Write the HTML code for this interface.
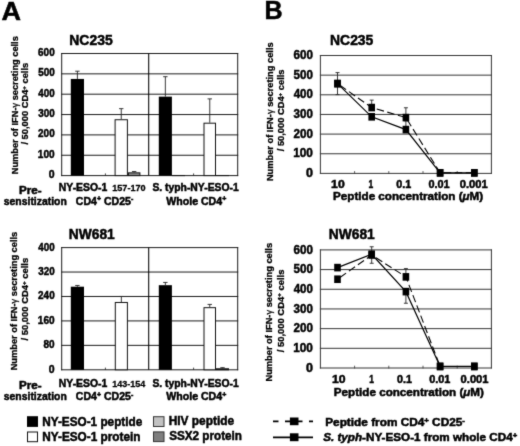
<!DOCTYPE html>
<html><head><meta charset="utf-8"><title>Figure</title>
<style>
html,body{margin:0;padding:0;background:#fff;}
body{width:520px;height:446px;overflow:hidden;}
svg{display:block;}
text{font-family:"Liberation Sans",sans-serif;font-weight:bold;white-space:pre;stroke:#000;}
text{stroke-width:0.5px;}
</style></head><body>
<svg width="520" height="446" viewBox="0 0 520 446">
<defs><filter id="soft" x="-10" y="-10" width="540" height="466" filterUnits="userSpaceOnUse" color-interpolation-filters="sRGB"><feConvolveMatrix order="3" kernelMatrix="0.02 0.08 0.02 0.08 0.6 0.08 0.02 0.08 0.02" edgeMode="duplicate" preserveAlpha="true"/></filter></defs>
<g filter="url(#soft)">
<rect x="-10" y="-10" width="540" height="466" fill="#fff"/>
<text transform="translate(1.41,19.70) scale(1.0585,1)" font-size="25.50" fill="#000">A</text>
<text transform="translate(264.44,18.50) scale(1.0033,1)" font-size="25.00" fill="#000">B</text>
<line x1="61.70" y1="53.50" x2="237.70" y2="53.50" stroke="#1a1a1a" stroke-width="1.00" stroke-linecap="square" />
<line x1="61.70" y1="73.85" x2="237.70" y2="73.85" stroke="#1a1a1a" stroke-width="1.00" stroke-linecap="square" />
<line x1="61.70" y1="94.20" x2="237.70" y2="94.20" stroke="#1a1a1a" stroke-width="1.00" stroke-linecap="square" />
<line x1="61.70" y1="114.55" x2="237.70" y2="114.55" stroke="#1a1a1a" stroke-width="1.00" stroke-linecap="square" />
<line x1="61.70" y1="134.90" x2="237.70" y2="134.90" stroke="#1a1a1a" stroke-width="1.00" stroke-linecap="square" />
<line x1="61.70" y1="155.25" x2="237.70" y2="155.25" stroke="#1a1a1a" stroke-width="1.00" stroke-linecap="square" />
<line x1="61.70" y1="175.60" x2="237.70" y2="175.60" stroke="#1a1a1a" stroke-width="1.00" stroke-linecap="square" />
<line x1="61.70" y1="53.50" x2="61.70" y2="175.60" stroke="#1a1a1a" stroke-width="1.00" stroke-linecap="square" />
<line x1="237.70" y1="53.50" x2="237.70" y2="175.60" stroke="#1a1a1a" stroke-width="1.00" stroke-linecap="square" />
<line x1="148.70" y1="53.50" x2="148.70" y2="175.60" stroke="#000" stroke-width="1.05" stroke-linecap="butt" />
<line x1="105.40" y1="173.40" x2="105.40" y2="175.60" stroke="#1a1a1a" stroke-width="0.80" stroke-linecap="butt" />
<line x1="193.60" y1="173.40" x2="193.60" y2="175.60" stroke="#1a1a1a" stroke-width="0.80" stroke-linecap="butt" />
<text transform="translate(69.25,45.20) scale(0.9964,1)" font-size="14.00" fill="#000">NC235</text>
<text transform="translate(38.09,56.00) scale(0.8714,1)" font-size="11.40" fill="#000">600</text>
<text transform="translate(38.14,76.35) scale(0.8690,1)" font-size="11.40" fill="#000">500</text>
<text transform="translate(38.31,96.70) scale(0.8596,1)" font-size="11.40" fill="#000">400</text>
<text transform="translate(38.22,117.05) scale(0.8643,1)" font-size="11.40" fill="#000">300</text>
<text transform="translate(38.09,137.40) scale(0.8714,1)" font-size="11.40" fill="#000">200</text>
<text transform="translate(37.82,157.75) scale(0.8860,1)" font-size="11.40" fill="#000">100</text>
<text transform="translate(48.87,178.10) scale(0.9211,1)" font-size="11.40" fill="#000">0</text>
<line x1="77.40" y1="71.20" x2="77.40" y2="78.94" stroke="#222" stroke-width="0.90" stroke-linecap="butt" />
<line x1="75.20" y1="71.20" x2="79.60" y2="71.20" stroke="#222" stroke-width="0.90" stroke-linecap="butt" />
<rect x="70.80" y="78.94" width="13.20" height="96.66" fill="#000"/>
<rect x="84.50" y="175.79" width="12.20" height="-0.19" fill="#fff" stroke="#111" stroke-width="1.00"/>
<line x1="121.25" y1="108.65" x2="121.25" y2="119.23" stroke="#222" stroke-width="0.90" stroke-linecap="butt" />
<line x1="119.05" y1="108.65" x2="123.45" y2="108.65" stroke="#222" stroke-width="0.90" stroke-linecap="butt" />
<rect x="115.10" y="119.73" width="12.30" height="55.87" fill="#fff" stroke="#111" stroke-width="1.00"/>
<line x1="134.15" y1="171.53" x2="134.15" y2="172.34" stroke="#222" stroke-width="0.90" stroke-linecap="butt" />
<line x1="131.95" y1="171.53" x2="136.35" y2="171.53" stroke="#222" stroke-width="0.90" stroke-linecap="butt" />
<rect x="128.40" y="172.84" width="11.50" height="2.76" fill="#888" stroke="#111" stroke-width="1.00"/>
<line x1="165.35" y1="76.70" x2="165.35" y2="96.64" stroke="#222" stroke-width="0.90" stroke-linecap="butt" />
<line x1="163.15" y1="76.70" x2="167.55" y2="76.70" stroke="#222" stroke-width="0.90" stroke-linecap="butt" />
<rect x="158.80" y="96.64" width="13.10" height="78.96" fill="#000"/>
<rect x="172.40" y="175.49" width="12.10" height="0.11" fill="#fff" stroke="#111" stroke-width="1.00"/>
<line x1="209.75" y1="98.88" x2="209.75" y2="122.69" stroke="#222" stroke-width="0.90" stroke-linecap="butt" />
<line x1="207.55" y1="98.88" x2="211.95" y2="98.88" stroke="#222" stroke-width="0.90" stroke-linecap="butt" />
<rect x="204.00" y="123.19" width="11.50" height="52.41" fill="#fff" stroke="#111" stroke-width="1.00"/>
<rect x="216.50" y="175.49" width="12.00" height="0.11" fill="#888" stroke="#111" stroke-width="1.00"/>
<text transform="translate(17.50,174.22) rotate(-90) scale(1.0277,1)" font-size="9.00" fill="#000" style="stroke-width:0.3px">Number of IFN-<tspan font-weight="normal">γ</tspan> secreting cells</text>
<text transform="translate(28.40,144.60) rotate(-90) scale(1.0353,1)" font-size="9.00" fill="#000" style="stroke-width:0.3px">/ 50,000 CD4<tspan font-size="5.94" dy="-2.70">+</tspan><tspan dy="2.70" font-size="0.01">&#8203;</tspan> cells</text>
<line x1="61.70" y1="247.60" x2="237.70" y2="247.60" stroke="#1a1a1a" stroke-width="1.00" stroke-linecap="square" />
<line x1="61.70" y1="272.04" x2="237.70" y2="272.04" stroke="#1a1a1a" stroke-width="1.00" stroke-linecap="square" />
<line x1="61.70" y1="296.48" x2="237.70" y2="296.48" stroke="#1a1a1a" stroke-width="1.00" stroke-linecap="square" />
<line x1="61.70" y1="320.92" x2="237.70" y2="320.92" stroke="#1a1a1a" stroke-width="1.00" stroke-linecap="square" />
<line x1="61.70" y1="345.36" x2="237.70" y2="345.36" stroke="#1a1a1a" stroke-width="1.00" stroke-linecap="square" />
<line x1="61.70" y1="369.80" x2="237.70" y2="369.80" stroke="#1a1a1a" stroke-width="1.00" stroke-linecap="square" />
<line x1="61.70" y1="247.60" x2="61.70" y2="369.80" stroke="#1a1a1a" stroke-width="1.00" stroke-linecap="square" />
<line x1="237.70" y1="247.60" x2="237.70" y2="369.80" stroke="#1a1a1a" stroke-width="1.00" stroke-linecap="square" />
<line x1="148.70" y1="247.60" x2="148.70" y2="369.80" stroke="#000" stroke-width="1.05" stroke-linecap="butt" />
<line x1="105.40" y1="367.60" x2="105.40" y2="369.80" stroke="#1a1a1a" stroke-width="0.80" stroke-linecap="butt" />
<line x1="193.60" y1="367.60" x2="193.60" y2="369.80" stroke="#1a1a1a" stroke-width="0.80" stroke-linecap="butt" />
<text transform="translate(68.87,239.40) scale(0.9835,1)" font-size="14.00" fill="#000">NW681</text>
<text transform="translate(38.31,250.50) scale(0.8596,1)" font-size="11.40" fill="#000">400</text>
<text transform="translate(38.22,274.94) scale(0.8643,1)" font-size="11.40" fill="#000">320</text>
<text transform="translate(38.09,299.38) scale(0.8714,1)" font-size="11.40" fill="#000">240</text>
<text transform="translate(37.82,323.82) scale(0.8860,1)" font-size="11.40" fill="#000">160</text>
<text transform="translate(43.55,348.26) scale(0.8773,1)" font-size="11.40" fill="#000">80</text>
<text transform="translate(48.87,372.70) scale(0.9211,1)" font-size="11.40" fill="#000">0</text>
<line x1="77.40" y1="285.48" x2="77.40" y2="286.70" stroke="#222" stroke-width="0.90" stroke-linecap="butt" />
<line x1="75.20" y1="285.48" x2="79.60" y2="285.48" stroke="#222" stroke-width="0.90" stroke-linecap="butt" />
<rect x="70.80" y="286.70" width="13.20" height="83.10" fill="#000"/>
<rect x="84.50" y="369.84" width="12.20" height="-0.04" fill="#fff" stroke="#111" stroke-width="1.00"/>
<line x1="121.35" y1="296.48" x2="121.35" y2="301.98" stroke="#222" stroke-width="0.90" stroke-linecap="butt" />
<line x1="119.15" y1="296.48" x2="123.55" y2="296.48" stroke="#222" stroke-width="0.90" stroke-linecap="butt" />
<rect x="115.30" y="302.48" width="12.10" height="67.32" fill="#fff" stroke="#111" stroke-width="1.00"/>
<rect x="128.40" y="369.99" width="11.50" height="-0.19" fill="#888" stroke="#111" stroke-width="1.00"/>
<line x1="165.35" y1="282.43" x2="165.35" y2="285.18" stroke="#222" stroke-width="0.90" stroke-linecap="butt" />
<line x1="163.15" y1="282.43" x2="167.55" y2="282.43" stroke="#222" stroke-width="0.90" stroke-linecap="butt" />
<rect x="158.80" y="285.18" width="13.10" height="84.62" fill="#000"/>
<rect x="172.40" y="369.84" width="12.10" height="-0.04" fill="#fff" stroke="#111" stroke-width="1.00"/>
<line x1="209.75" y1="304.42" x2="209.75" y2="307.17" stroke="#222" stroke-width="0.90" stroke-linecap="butt" />
<line x1="207.55" y1="304.42" x2="211.95" y2="304.42" stroke="#222" stroke-width="0.90" stroke-linecap="butt" />
<rect x="204.00" y="307.67" width="11.50" height="62.13" fill="#fff" stroke="#111" stroke-width="1.00"/>
<line x1="222.50" y1="367.66" x2="222.50" y2="368.27" stroke="#222" stroke-width="0.90" stroke-linecap="butt" />
<line x1="220.30" y1="367.66" x2="224.70" y2="367.66" stroke="#222" stroke-width="0.90" stroke-linecap="butt" />
<rect x="216.50" y="368.77" width="12.00" height="1.03" fill="#888" stroke="#111" stroke-width="1.00"/>
<text transform="translate(17.40,370.32) rotate(-90) scale(1.0322,1)" font-size="9.00" fill="#000" style="stroke-width:0.3px">Number of IFN-<tspan font-weight="normal">γ</tspan> secreting cells</text>
<text transform="translate(28.40,340.50) rotate(-90) scale(1.0467,1)" font-size="9.00" fill="#000" style="stroke-width:0.3px">/ 50,000 CD4<tspan font-size="5.94" dy="-2.70">+</tspan><tspan dy="2.70" font-size="0.01">&#8203;</tspan> cells</text>
<text transform="translate(19.01,193.75) scale(1.0568,1)" font-size="11.00" fill="#000">Pre-</text>
<text transform="translate(3.82,204.50) scale(0.9458,1)" font-size="11.00" fill="#000">sensitization</text>
<text transform="translate(58.81,191.20) scale(0.9896,1)" font-size="10.50" fill="#000">NY-ESO-1</text>
<text transform="translate(112.24,191.20) scale(0.9393,1)" font-size="9.70" fill="#000" style="stroke-width:0.3px">157-170</text>
<text transform="translate(152.40,191.20) scale(0.9873,1)" font-size="10.50" fill="#000">S. typh-NY-ESO-1</text>
<text transform="translate(75.80,204.50) scale(1.0062,1)" font-size="10.50" fill="#000">CD4<tspan font-size="6.93" dy="-3.15">+</tspan><tspan dy="3.15" font-size="0.01">&#8203;</tspan> CD25<tspan font-size="6.93" dy="-3.15">-</tspan><tspan dy="3.15" font-size="0.01">&#8203;</tspan></text>
<text transform="translate(166.30,204.50) scale(1.0090,1)" font-size="10.50" fill="#000">Whole CD4<tspan font-size="6.93" dy="-3.15">+</tspan><tspan dy="3.15" font-size="0.01">&#8203;</tspan></text>
<text transform="translate(19.01,388.75) scale(1.0568,1)" font-size="11.00" fill="#000">Pre-</text>
<text transform="translate(3.82,400.40) scale(0.9458,1)" font-size="11.00" fill="#000">sensitization</text>
<text transform="translate(58.81,386.80) scale(0.9896,1)" font-size="10.50" fill="#000">NY-ESO-1</text>
<text transform="translate(112.24,386.80) scale(0.9299,1)" font-size="9.70" fill="#000" style="stroke-width:0.3px">143-154</text>
<text transform="translate(152.40,386.80) scale(0.9873,1)" font-size="10.50" fill="#000">S. typh-NY-ESO-1</text>
<text transform="translate(75.80,400.40) scale(1.0062,1)" font-size="10.50" fill="#000">CD4<tspan font-size="6.93" dy="-3.15">+</tspan><tspan dy="3.15" font-size="0.01">&#8203;</tspan> CD25<tspan font-size="6.93" dy="-3.15">-</tspan><tspan dy="3.15" font-size="0.01">&#8203;</tspan></text>
<text transform="translate(166.30,400.40) scale(1.0090,1)" font-size="10.50" fill="#000">Whole CD4<tspan font-size="6.93" dy="-3.15">+</tspan><tspan dy="3.15" font-size="0.01">&#8203;</tspan></text>
<rect x="27.00" y="416.20" width="11.00" height="10.70" fill="#000"/>
<rect x="27.50" y="432.00" width="10.00" height="9.70" fill="#fff" stroke="#111" stroke-width="1.00"/>
<rect x="153.50" y="416.70" width="10.50" height="9.80" fill="#c2c2c2" stroke="#333" stroke-width="1.00"/>
<rect x="153.50" y="431.90" width="10.50" height="9.70" fill="#7e7e7e" stroke="#333" stroke-width="1.00"/>
<text transform="translate(42.21,426.00) scale(0.9821,1)" font-size="12.00" fill="#000">NY-ESO-1 peptide</text>
<text transform="translate(42.21,440.75) scale(0.9848,1)" font-size="12.00" fill="#000">NY-ESO-1 protein</text>
<text transform="translate(168.71,425.00) scale(0.9915,1)" font-size="12.00" fill="#000">HIV peptide</text>
<text transform="translate(169.16,440.30) scale(0.9749,1)" font-size="12.00" fill="#000">SSX2 protein</text>
<line x1="320.40" y1="55.50" x2="491.40" y2="55.50" stroke="#333" stroke-width="1.00" stroke-linecap="square" />
<line x1="320.40" y1="75.15" x2="491.40" y2="75.15" stroke="#333" stroke-width="1.00" stroke-linecap="square" />
<line x1="320.40" y1="94.80" x2="491.40" y2="94.80" stroke="#333" stroke-width="1.00" stroke-linecap="square" />
<line x1="320.40" y1="114.45" x2="491.40" y2="114.45" stroke="#333" stroke-width="1.00" stroke-linecap="square" />
<line x1="320.40" y1="134.10" x2="491.40" y2="134.10" stroke="#333" stroke-width="1.00" stroke-linecap="square" />
<line x1="320.40" y1="153.75" x2="491.40" y2="153.75" stroke="#333" stroke-width="1.00" stroke-linecap="square" />
<line x1="320.40" y1="173.40" x2="491.40" y2="173.40" stroke="#333" stroke-width="1.00" stroke-linecap="square" />
<line x1="320.40" y1="55.50" x2="320.40" y2="173.40" stroke="#333" stroke-width="1.00" stroke-linecap="square" />
<line x1="491.40" y1="55.50" x2="491.40" y2="173.40" stroke="#333" stroke-width="1.00" stroke-linecap="square" />
<line x1="354.60" y1="171.10" x2="354.60" y2="173.90" stroke="#333" stroke-width="0.80" stroke-linecap="butt" />
<line x1="388.80" y1="171.10" x2="388.80" y2="173.90" stroke="#333" stroke-width="0.80" stroke-linecap="butt" />
<line x1="423.00" y1="171.10" x2="423.00" y2="173.90" stroke="#333" stroke-width="0.80" stroke-linecap="butt" />
<line x1="457.20" y1="171.10" x2="457.20" y2="173.90" stroke="#333" stroke-width="0.80" stroke-linecap="butt" />
<text transform="translate(330.06,45.20) scale(0.9941,1)" font-size="14.00" fill="#000">NC235</text>
<text transform="translate(293.49,59.10) scale(0.8942,1)" font-size="13.00" fill="#000">600</text>
<text transform="translate(293.53,78.75) scale(0.8920,1)" font-size="13.00" fill="#000">500</text>
<text transform="translate(293.71,98.40) scale(0.8835,1)" font-size="13.00" fill="#000">400</text>
<text transform="translate(293.62,118.05) scale(0.8878,1)" font-size="13.00" fill="#000">300</text>
<text transform="translate(293.49,137.70) scale(0.8942,1)" font-size="13.00" fill="#000">200</text>
<text transform="translate(293.16,157.35) scale(0.9096,1)" font-size="13.00" fill="#000">100</text>
<text transform="translate(305.95,177.00) scale(0.9629,1)" font-size="13.00" fill="#000">0</text>
<line x1="337.50" y1="72.60" x2="337.50" y2="94.60" stroke="#222" stroke-width="0.90" stroke-linecap="butt" />
<line x1="335.50" y1="72.60" x2="339.50" y2="72.60" stroke="#222" stroke-width="0.90" stroke-linecap="butt" />
<line x1="335.50" y1="94.60" x2="339.50" y2="94.60" stroke="#222" stroke-width="0.90" stroke-linecap="butt" />
<line x1="371.70" y1="100.11" x2="371.70" y2="107.57" stroke="#222" stroke-width="0.90" stroke-linecap="butt" />
<line x1="369.70" y1="100.11" x2="373.70" y2="100.11" stroke="#222" stroke-width="0.90" stroke-linecap="butt" />
<line x1="405.90" y1="107.77" x2="405.90" y2="117.59" stroke="#222" stroke-width="0.90" stroke-linecap="butt" />
<line x1="403.90" y1="107.77" x2="407.90" y2="107.77" stroke="#222" stroke-width="0.90" stroke-linecap="butt" />
<line x1="405.90" y1="120.74" x2="405.90" y2="129.58" stroke="#222" stroke-width="0.90" stroke-linecap="butt" />
<line x1="403.90" y1="120.74" x2="407.90" y2="120.74" stroke="#222" stroke-width="0.90" stroke-linecap="butt" />
<polyline points="337.50,83.60 371.70,107.57 405.90,117.59 440.10,172.81 474.30,172.81" fill="none" stroke="#000" stroke-width="1.1" stroke-dasharray="7.5,3.5" stroke-dashoffset="-3"/>
<polyline points="337.50,83.60 371.70,116.81 405.90,129.58 440.10,172.81 474.30,172.81" fill="none" stroke="#000" stroke-width="1.2"/>
<rect x="334.20" y="79.80" width="6.60" height="7.60" fill="#000"/>
<rect x="368.40" y="103.77" width="6.60" height="7.60" fill="#000"/>
<rect x="402.60" y="113.79" width="6.60" height="7.60" fill="#000"/>
<rect x="436.80" y="169.01" width="6.60" height="7.60" fill="#000"/>
<rect x="471.00" y="169.01" width="6.60" height="7.60" fill="#000"/>
<rect x="334.20" y="79.80" width="6.60" height="7.60" fill="#000"/>
<rect x="368.40" y="113.01" width="6.60" height="7.60" fill="#000"/>
<rect x="402.60" y="125.78" width="6.60" height="7.60" fill="#000"/>
<rect x="436.80" y="169.01" width="6.60" height="7.60" fill="#000"/>
<rect x="471.00" y="169.01" width="6.60" height="7.60" fill="#000"/>
<text transform="translate(331.11,187.90) scale(1.1336,1)" font-size="10.80" fill="#000">10</text>
<text transform="translate(368.45,187.90) scale(0.7800,1)" font-size="10.80" fill="#000">1</text>
<text transform="translate(396.20,187.90) scale(0.9930,1)" font-size="10.80" fill="#000">0.1</text>
<text transform="translate(428.40,187.90) scale(1.0099,1)" font-size="10.80" fill="#000">0.01</text>
<text transform="translate(459.79,187.90) scale(1.0342,1)" font-size="10.80" fill="#000">0.001</text>
<text transform="translate(333.02,199.50) scale(1.0419,1)" font-size="11.20" fill="#000">Peptide concentration (<tspan font-style="italic">μ</tspan>M)</text>
<text transform="translate(272.90,181.12) rotate(-90) scale(1.0352,1)" font-size="9.00" fill="#000" style="stroke-width:0.3px">Number of IFN-<tspan font-weight="normal">γ</tspan> secreting cells</text>
<text transform="translate(284.20,151.30) rotate(-90) scale(1.0353,1)" font-size="9.00" fill="#000" style="stroke-width:0.3px">/ 50,000 CD4<tspan font-size="5.94" dy="-2.70">+</tspan><tspan dy="2.70" font-size="0.01">&#8203;</tspan> cells</text>
<line x1="320.40" y1="249.90" x2="491.40" y2="249.90" stroke="#333" stroke-width="1.00" stroke-linecap="square" />
<line x1="320.40" y1="269.58" x2="491.40" y2="269.58" stroke="#333" stroke-width="1.00" stroke-linecap="square" />
<line x1="320.40" y1="289.27" x2="491.40" y2="289.27" stroke="#333" stroke-width="1.00" stroke-linecap="square" />
<line x1="320.40" y1="308.95" x2="491.40" y2="308.95" stroke="#333" stroke-width="1.00" stroke-linecap="square" />
<line x1="320.40" y1="328.63" x2="491.40" y2="328.63" stroke="#333" stroke-width="1.00" stroke-linecap="square" />
<line x1="320.40" y1="348.32" x2="491.40" y2="348.32" stroke="#333" stroke-width="1.00" stroke-linecap="square" />
<line x1="320.40" y1="368.00" x2="491.40" y2="368.00" stroke="#333" stroke-width="1.00" stroke-linecap="square" />
<line x1="320.40" y1="249.90" x2="320.40" y2="368.00" stroke="#333" stroke-width="1.00" stroke-linecap="square" />
<line x1="491.40" y1="249.90" x2="491.40" y2="368.00" stroke="#333" stroke-width="1.00" stroke-linecap="square" />
<line x1="354.60" y1="365.70" x2="354.60" y2="368.50" stroke="#333" stroke-width="0.80" stroke-linecap="butt" />
<line x1="388.80" y1="365.70" x2="388.80" y2="368.50" stroke="#333" stroke-width="0.80" stroke-linecap="butt" />
<line x1="423.00" y1="365.70" x2="423.00" y2="368.50" stroke="#333" stroke-width="0.80" stroke-linecap="butt" />
<line x1="457.20" y1="365.70" x2="457.20" y2="368.50" stroke="#333" stroke-width="0.80" stroke-linecap="butt" />
<text transform="translate(328.87,239.40) scale(0.9835,1)" font-size="14.00" fill="#000">NW681</text>
<text transform="translate(293.49,253.50) scale(0.8942,1)" font-size="13.00" fill="#000">600</text>
<text transform="translate(293.53,273.18) scale(0.8920,1)" font-size="13.00" fill="#000">500</text>
<text transform="translate(293.71,292.87) scale(0.8835,1)" font-size="13.00" fill="#000">400</text>
<text transform="translate(293.62,312.55) scale(0.8878,1)" font-size="13.00" fill="#000">300</text>
<text transform="translate(293.49,332.23) scale(0.8942,1)" font-size="13.00" fill="#000">200</text>
<text transform="translate(293.16,351.92) scale(0.9096,1)" font-size="13.00" fill="#000">100</text>
<text transform="translate(305.95,371.60) scale(0.9629,1)" font-size="13.00" fill="#000">0</text>
<line x1="371.70" y1="246.75" x2="371.70" y2="263.28" stroke="#222" stroke-width="0.90" stroke-linecap="butt" />
<line x1="369.70" y1="246.75" x2="373.70" y2="246.75" stroke="#222" stroke-width="0.90" stroke-linecap="butt" />
<line x1="369.70" y1="263.28" x2="373.70" y2="263.28" stroke="#222" stroke-width="0.90" stroke-linecap="butt" />
<line x1="405.90" y1="268.60" x2="405.90" y2="276.87" stroke="#222" stroke-width="0.90" stroke-linecap="butt" />
<line x1="403.90" y1="268.60" x2="407.90" y2="268.60" stroke="#222" stroke-width="0.90" stroke-linecap="butt" />
<line x1="405.90" y1="291.63" x2="405.90" y2="303.24" stroke="#222" stroke-width="0.90" stroke-linecap="butt" />
<line x1="403.90" y1="303.24" x2="407.90" y2="303.24" stroke="#222" stroke-width="0.90" stroke-linecap="butt" />
<polyline points="337.50,279.23 371.70,255.02 405.90,276.87 440.10,366.43 474.30,366.43" fill="none" stroke="#000" stroke-width="1.1" stroke-dasharray="7.5,3.5" stroke-dashoffset="-3"/>
<polyline points="337.50,267.62 371.70,254.23 405.90,291.63 440.10,366.43 474.30,366.43" fill="none" stroke="#000" stroke-width="1.2"/>
<rect x="334.20" y="275.43" width="6.60" height="7.60" fill="#000"/>
<rect x="368.40" y="251.22" width="6.60" height="7.60" fill="#000"/>
<rect x="402.60" y="273.07" width="6.60" height="7.60" fill="#000"/>
<rect x="436.80" y="362.63" width="6.60" height="7.60" fill="#000"/>
<rect x="471.00" y="362.63" width="6.60" height="7.60" fill="#000"/>
<rect x="334.20" y="263.81" width="6.60" height="7.60" fill="#000"/>
<rect x="368.40" y="250.43" width="6.60" height="7.60" fill="#000"/>
<rect x="402.60" y="287.83" width="6.60" height="7.60" fill="#000"/>
<rect x="436.80" y="362.63" width="6.60" height="7.60" fill="#000"/>
<rect x="471.00" y="362.63" width="6.60" height="7.60" fill="#000"/>
<text transform="translate(331.91,383.40) scale(1.1336,1)" font-size="10.80" fill="#000">10</text>
<text transform="translate(369.25,383.40) scale(0.7800,1)" font-size="10.80" fill="#000">1</text>
<text transform="translate(397.00,383.40) scale(0.9930,1)" font-size="10.80" fill="#000">0.1</text>
<text transform="translate(429.20,383.40) scale(1.0099,1)" font-size="10.80" fill="#000">0.01</text>
<text transform="translate(460.59,383.40) scale(1.0342,1)" font-size="10.80" fill="#000">0.001</text>
<text transform="translate(333.82,395.90) scale(1.0419,1)" font-size="11.20" fill="#000">Peptide concentration (<tspan font-style="italic">μ</tspan>M)</text>
<text transform="translate(271.90,381.52) rotate(-90) scale(1.0322,1)" font-size="9.00" fill="#000" style="stroke-width:0.3px">Number of IFN-<tspan font-weight="normal">γ</tspan> secreting cells</text>
<text transform="translate(283.50,352.30) rotate(-90) scale(1.0480,1)" font-size="9.00" fill="#000" style="stroke-width:0.3px">/ 50,000 CD4<tspan font-size="5.94" dy="-2.70">+</tspan><tspan dy="2.70" font-size="0.01">&#8203;</tspan> cells</text>
<line x1="273.00" y1="421.40" x2="313.00" y2="421.40" stroke="#000" stroke-width="1.80" stroke-linecap="butt" stroke-dasharray="5.5,6.5"/>
<rect x="289.90" y="417.50" width="8.60" height="7.70" fill="#000"/>
<line x1="273.00" y1="437.30" x2="313.00" y2="437.30" stroke="#000" stroke-width="1.80" stroke-linecap="butt" />
<rect x="289.90" y="433.30" width="8.60" height="7.90" fill="#000"/>
<text transform="translate(325.19,425.80) scale(1.0751,1)" font-size="11.00" fill="#000">Peptide from CD4<tspan font-size="7.26" dy="-3.30">+</tspan><tspan dy="3.30" font-size="0.01">&#8203;</tspan> CD25<tspan font-size="7.26" dy="-3.30">-</tspan><tspan dy="3.30" font-size="0.01">&#8203;</tspan></text>
<text transform="translate(323.14,440.90) scale(1.0444,1)" font-size="11.20" fill="#000"><tspan font-style="italic">S. typh</tspan>-NY-ESO-1 from whole CD4<tspan font-size="7.39" dy="-3.36">+</tspan><tspan dy="3.36" font-size="0.01">&#8203;</tspan></text>
</g>
</svg>
</body></html>
